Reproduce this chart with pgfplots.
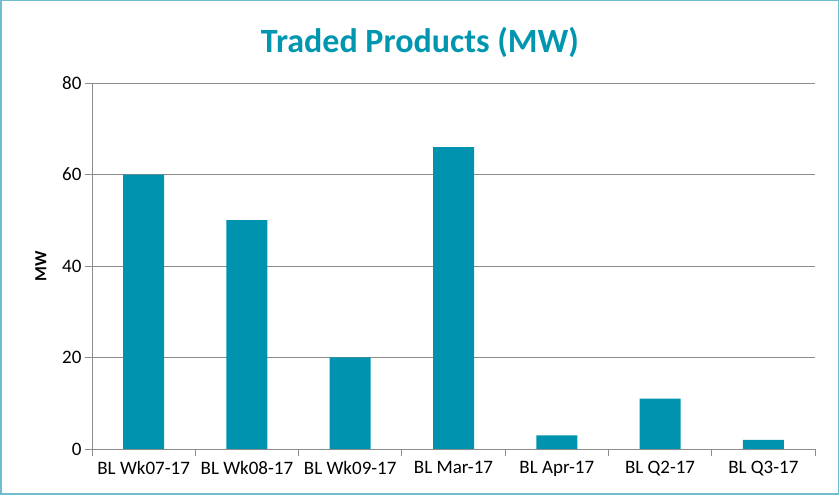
\documentclass[border=0pt]{standalone}
\usepackage{pgfplots}
\pgfplotsset{compat=1.18}
\usepackage{fontspec}
\setmainfont{Carlito}
\definecolor{barc}{HTML}{0093AF}
\definecolor{titc}{HTML}{0096B0}
\definecolor{bordc}{HTML}{6FBDCE}
\definecolor{gridc}{HTML}{8C8C8C}
\begin{document}
\begin{tikzpicture}[x=1pt,y=1pt]
\useasboundingbox (0,0) rectangle (839,495);
\draw[bordc,line width=1.5pt] (0.75,0.75) rectangle (838.25,494.25);
\node[font=\bfseries\fontsize{34}{40}\selectfont,text=titc] at (420,453) {Traded Products (MW)};
\begin{axis}[
  at={(92pt,46pt)}, anchor=south west,
  scale only axis, width=723pt, height=366pt,
  xmin=-0.5, xmax=6.5, ymin=0, ymax=80,
  ytick={0,20,40,60,80},
  axis lines=left, axis line style={gridc,line width=0.8pt,-},
  ymajorgrids, grid style={gridc,line width=0.8pt},
  xtick={-0.5,0.5,1.5,2.5,3.5,4.5,5.5,6.5},
  xticklabels={},
  extra x ticks={0,1,2,3,4,5,6},
  extra x tick labels={BL Wk07-17,BL Wk08-17,BL Wk09-17,BL Mar-17,BL Apr-17,BL Q2-17,BL Q3-17},
  extra x tick style={major tick length=0pt, grid=none},
  xticklabel style={yshift=-9pt},
  tick style={draw=gridc,line width=0.8pt},
  major tick length=7pt, tick align=outside,
  ticklabel style={font=\fontsize{19}{22}\selectfont},
  /pgf/number format/assume math mode=true,
  ylabel={MW},
  every axis y label/.style={at={(ticklabel cs:0.5)}, rotate=90, anchor=center, yshift=18pt, font=\bfseries\fontsize{17}{20}\selectfont},
  clip=false,
]
\addplot[ybar, bar width=41pt, fill=barc, draw=none] coordinates {
(0,60) (1,50) (2,20) (3,66) (4,3) (5,11) (6,2)};
\end{axis}
\end{tikzpicture}
\end{document}
